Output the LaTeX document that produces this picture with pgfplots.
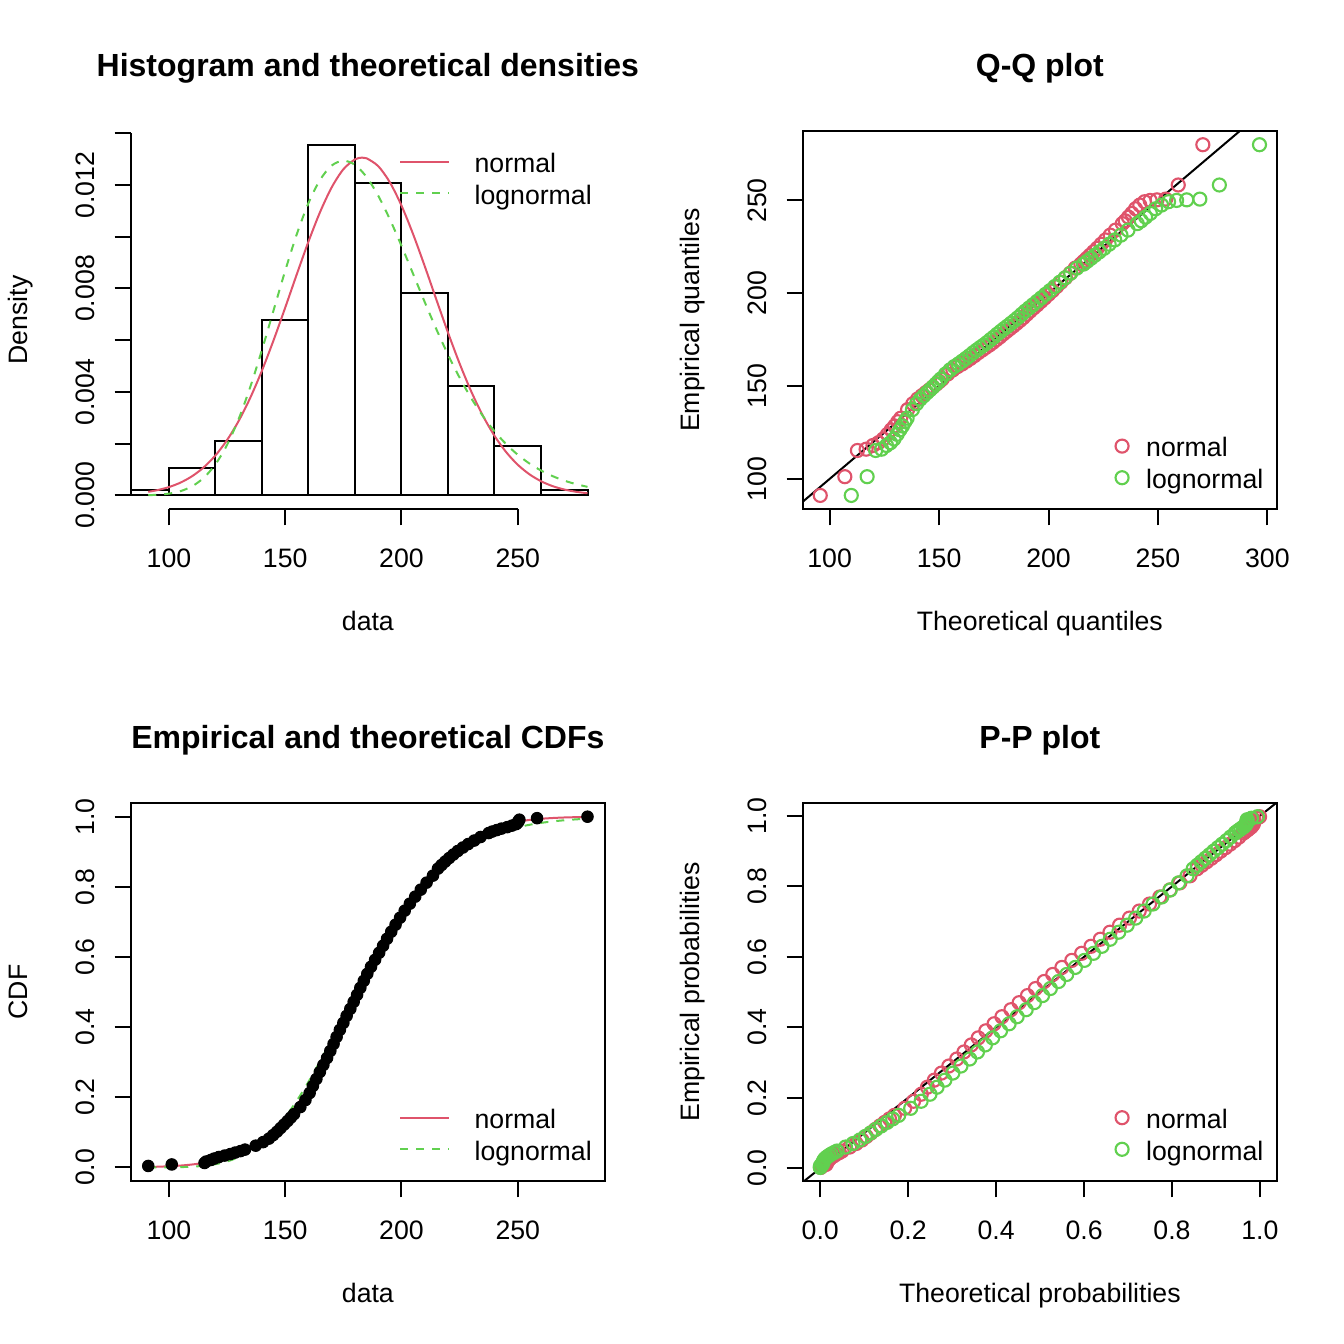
\documentclass[border=0pt]{standalone}
\usepackage{fontspec}
\setmainfont{Liberation Sans}
\usepackage{pgfplots}
\usepackage{pgfplotstable}
\pgfplotsset{compat=1.18}
\definecolor{rred}{HTML}{DF536B}
\definecolor{rgreen}{HTML}{61D04F}

% sorted data (v), ecdf i/n, theoretical quantiles (normal qn, lognormal ql),
% plotting positions pp, theoretical probabilities (normal Fn, lognormal Fl)
\pgfplotstableread{
v ecdf qn ql pp Fn Fl
91.1 0.0042 95.70 109.88 0.0021 0.0013 0.0000
101.2 0.0085 106.94 117.12 0.0064 0.0037 0.0004
115.3 0.0127 112.68 121.00 0.0106 0.0132 0.0049
116.0 0.0169 116.65 123.76 0.0148 0.0140 0.0054
118.0 0.0212 119.77 125.97 0.0191 0.0166 0.0072
119.5 0.0254 122.31 127.79 0.0233 0.0187 0.0087
121.5 0.0297 124.51 129.40 0.0275 0.0219 0.0113
124.0 0.0339 126.43 130.82 0.0318 0.0265 0.0152
126.4 0.0381 128.14 132.10 0.0360 0.0317 0.0200
128.5 0.0424 129.70 133.27 0.0403 0.0370 0.0251
130.8 0.0466 131.13 134.36 0.0445 0.0435 0.0317
132.7 0.0508 132.48 135.39 0.0487 0.0495 0.0381
137.3 0.0621 135.60 137.81 0.0600 0.0669 0.0575
140.5 0.0721 138.01 139.71 0.0700 0.0816 0.0745
143.0 0.0821 140.17 141.44 0.0800 0.0947 0.0898
144.8 0.0921 142.14 143.02 0.0900 0.1049 0.1022
146.5 0.1021 143.95 144.50 0.1000 0.1155 0.1146
148.0 0.1121 145.63 145.88 0.1100 0.1253 0.1264
149.5 0.1221 147.20 147.19 0.1200 0.1358 0.1389
151.0 0.1321 148.69 148.44 0.1300 0.1467 0.1521
152.4 0.1421 150.10 149.63 0.1400 0.1575 0.1649
153.8 0.1521 151.44 150.77 0.1500 0.1687 0.1784
156.5 0.1721 153.95 152.94 0.1700 0.1919 0.2057
158.7 0.1921 156.28 154.97 0.1900 0.2122 0.2294
160.5 0.2121 158.46 156.91 0.2100 0.2298 0.2496
161.9 0.2321 160.53 158.76 0.2300 0.2438 0.2657
163.4 0.2521 162.49 160.54 0.2500 0.2595 0.2835
164.9 0.2721 164.38 162.27 0.2700 0.2756 0.3016
166.4 0.2921 166.19 163.95 0.2900 0.2924 0.3200
168.0 0.3121 167.95 165.59 0.3100 0.3106 0.3400
169.4 0.3321 169.66 167.21 0.3300 0.3269 0.3576
170.8 0.3521 171.33 168.79 0.3500 0.3436 0.3756
172.1 0.3721 172.96 170.37 0.3700 0.3594 0.3922
173.5 0.3921 174.57 171.93 0.3900 0.3766 0.4101
175.0 0.4121 176.15 173.48 0.4100 0.3954 0.4296
176.4 0.4321 177.71 175.02 0.4300 0.4132 0.4478
178.0 0.4521 179.26 176.57 0.4500 0.4337 0.4684
179.45 0.4721 180.80 178.12 0.4700 0.4524 0.4871
180.9 0.4921 182.33 179.68 0.4900 0.4713 0.5056
182.3 0.5121 183.87 181.25 0.5100 0.4895 0.5233
183.8 0.5321 185.40 182.83 0.5300 0.5092 0.5421
185.3 0.5521 186.94 184.44 0.5500 0.5288 0.5606
186.9 0.5721 188.49 186.06 0.5700 0.5496 0.5802
188.65 0.5921 190.05 187.72 0.5900 0.5722 0.6011
190.4 0.6121 191.63 189.41 0.6100 0.5946 0.6215
192.1 0.6321 193.24 191.15 0.6300 0.6159 0.6408
193.8 0.6521 194.87 192.93 0.6500 0.6370 0.6596
195.6 0.6721 196.54 194.76 0.6700 0.6589 0.6790
197.45 0.6921 198.25 196.67 0.6900 0.6808 0.6981
199.4 0.7121 200.01 198.64 0.7100 0.7032 0.7175
201.4 0.7321 201.82 200.69 0.7300 0.7255 0.7367
203.6 0.7521 203.71 202.85 0.7500 0.7489 0.7568
205.9 0.7721 205.67 205.13 0.7700 0.7723 0.7766
208.3 0.7921 207.74 207.54 0.7900 0.7953 0.7961
210.8 0.8121 209.92 210.13 0.8100 0.8178 0.8150
213.55 0.8321 212.25 212.94 0.8300 0.8408 0.8342
215.7 0.8521 214.76 215.99 0.8500 0.8572 0.8482
217.2 0.8621 216.10 217.64 0.8600 0.8680 0.8574
218.8 0.8721 217.51 219.39 0.8700 0.8789 0.8667
220.5 0.8821 219.00 221.25 0.8800 0.8898 0.8761
222.3 0.8921 220.57 223.23 0.8900 0.9003 0.8855
224.2 0.9021 222.25 225.37 0.9000 0.9107 0.8947
226.4 0.9121 224.06 227.70 0.9100 0.9218 0.9046
228.7 0.9221 226.03 230.25 0.9200 0.9322 0.9142
231.3 0.9321 228.19 233.09 0.9300 0.9426 0.9240
234.0 0.9421 230.60 236.31 0.9400 0.9522 0.9332
237.5 0.9534 233.72 240.53 0.9513 0.9625 0.9434
239.0 0.9576 235.07 242.37 0.9555 0.9664 0.9474
241.0 0.9619 236.50 244.35 0.9597 0.9710 0.9524
243.0 0.9661 238.06 246.52 0.9640 0.9750 0.9569
245.5 0.9703 239.77 248.93 0.9682 0.9795 0.9621
247.5 0.9746 241.69 251.67 0.9725 0.9825 0.9658
249.3 0.9788 243.89 254.83 0.9767 0.9849 0.9688
250.0 0.9831 246.43 258.52 0.9809 0.9857 0.9699
250.3 0.9873 249.55 263.14 0.9852 0.9861 0.9704
250.7 0.9915 253.52 269.14 0.9894 0.9866 0.9710
258.3 0.9958 259.26 278.05 0.9936 0.9931 0.9807
280.0 1.0000 270.50 296.38 0.9979 0.9992 0.9944
}\fitdata

\pgfplotsset{
  rbase/.style={
    scale only axis, width=177.9pt, height=142.04pt,
    axis line style={line width=0.75pt},
    every tick/.style={black, line width=0.75pt},
    tick align=outside, major tick length=5.98pt,
    xtick pos=left, ytick pos=left,
    scaled x ticks=false, scaled y ticks=false,
    tick label style={font=\fontsize{10}{12}\selectfont, inner sep=0pt},
    xticklabel style={anchor=center, yshift=-12.22pt},
    yticklabel style={anchor=center, xshift=-10.96pt, rotate=90},
    label style={font=\fontsize{10}{12}\selectfont, inner sep=0pt},
    xlabel style={at={(axis description cs:0.5,-0.3205)}, anchor=base},
    ylabel style={at={(axis description cs:-0.2177,0.5)}, anchor=base},
    title style={at={(axis description cs:0.5,1.1008)}, anchor=base,
      font=\fontsize{12}{14}\selectfont\bfseries, inner sep=0pt},
    legend style={draw=none, fill=none, inner sep=0pt, outer sep=0pt,
      row sep=2.45pt, font=\fontsize{10}{12}\selectfont,
      nodes={inner sep=0pt, text height=7.3pt, text depth=2.1pt}},
    legend cell align=left,
  },
  linelegend/.style={
    legend style={column sep=9.1pt},
    legend image code/.code={\draw[##1] (0pt,1.45pt) -- (18.4pt,1.45pt);},
  },
  marklegend/.style={
    legend style={column sep=6.6pt},
    legend image code/.code={\draw[##1] plot coordinates {(0pt,1.45pt)};},
  },
  rring/.style={only marks, mark=o, #1, mark size=2.45pt,
    mark options={line width=0.8pt}},
}

\begin{document}
\begin{tikzpicture}
\path[use as bounding box] (0pt,0pt) rectangle (504pt,-504pt);

% ---------------- Histogram and theoretical densities
\begin{axis}[rbase, linelegend, at={(49.005pt,-191.04pt)}, anchor=south west,
  clip=false, axis line style={draw=none},
  xmin=83.544, xmax=287.556, ymin=-0.000542, ymax=0.014101,
  xtick={100,150,200,250}, xticklabels={100,150,200,250},
  ytick={0,0.002,0.004,0.006,0.008,0.010,0.012,0.014},
  yticklabels={0.000,,0.004,,0.008,,0.012,},
  title={Histogram and theoretical densities},
  xlabel={data}, ylabel={Density},
  legend style={at={(axis description cs:0.9718,0.9411)}, anchor=north east}]
\addplot[ybar interval, draw=black, fill=none, line width=0.75pt, forget plot] coordinates {
(83.544,0.000212) (100,0.001059) (120,0.002119) (140,0.006780) (160,0.013559)
(180,0.012076) (200,0.007839) (220,0.004237) (240,0.001907) (260,0.000212) (280,0.000212)};
\addplot[rred, line width=0.75pt, smooth] coordinates {
(91.1,0.000140) (95,0.000204) (100,0.000323) (105,0.000497) (110,0.000746) (115,0.001089)
(120,0.001547) (125,0.002141) (130,0.002883) (135,0.003781) (140,0.004827) (145,0.006001)
(150,0.007261) (155,0.008555) (160,0.009812) (165,0.010957) (170,0.011912) (175,0.012608)
(180,0.012992) (183.1,0.013059) (185,0.013034) (190,0.012730) (195,0.012105) (200,0.011206)
(205,0.010100) (210,0.008863) (215,0.007571) (220,0.006297) (225,0.005099) (230,0.004019)
(235,0.003084) (240,0.002305) (245,0.001677) (250,0.001187) (255,0.000819) (260,0.000550)
(265,0.000359) (270,0.000229) (275,0.000142) (280,0.000085)};
\addlegendentry{normal}
\addplot[rgreen, line width=0.75pt, smooth, dash pattern=on 3pt off 3pt] coordinates {
(91.1,0.000011) (95,0.000026) (100,0.000070) (105,0.000167) (110,0.000356) (115,0.000684)
(120,0.001204) (125,0.001956) (130,0.002959) (135,0.004200) (140,0.005627) (145,0.007159)
(150,0.008689) (155,0.010104) (160,0.011302) (165,0.012202) (170,0.012754) (175,0.012942)
(180,0.012780) (185,0.012309) (190,0.011586) (195,0.010677) (200,0.009649) (205,0.008564)
(210,0.007476) (215,0.006426) (220,0.005444) (225,0.004553) (230,0.003760) (235,0.003070)
(240,0.002481) (245,0.001985) (250,0.001573) (255,0.001236) (260,0.000964) (265,0.000746)
(270,0.000573) (275,0.000438) (280,0.000332)};
\addlegendentry{lognormal}
\draw[line width=0.75pt] (axis cs:100,-0.000542) -- (axis cs:250,-0.000542);
\draw[line width=0.75pt] (axis cs:83.544,0) -- (axis cs:83.544,0.014);
\end{axis}

% ---------------- Q-Q plot
\begin{axis}[rbase, marklegend, at={(301.0pt,-191.04pt)}, anchor=south west,
  xmin=87.67, xmax=304.41, ymin=83.544, ymax=287.556,
  xtick={100,150,200,250,300}, xticklabels={100,150,200,250,300},
  ytick={100,150,200,250}, yticklabels={100,150,200,250},
  title={Q-Q plot},
  xlabel={Theoretical quantiles}, ylabel={Empirical quantiles},
  legend style={at={(axis description cs:0.9710,0.0405)}, anchor=south east}]
\addplot[rring=rred] table[x=qn, y=v]{\fitdata};
\addlegendentry{normal}
\addplot[rring=rgreen] table[x=ql, y=v]{\fitdata};
\addlegendentry{lognormal}
\addplot[black, line width=0.75pt, forget plot] coordinates {(80,80) (310,310)};
\end{axis}

% ---------------- Empirical and theoretical CDFs
\begin{axis}[rbase, linelegend, at={(49.005pt,-443.04pt)}, anchor=south west,
  xmin=83.544, xmax=287.556, ymin=-0.04, ymax=1.04,
  xtick={100,150,200,250}, xticklabels={100,150,200,250},
  ytick={0,0.2,0.4,0.6,0.8,1}, yticklabels={0.0,0.2,0.4,0.6,0.8,1.0},
  title={Empirical and theoretical CDFs},
  xlabel={data}, ylabel={CDF},
  legend style={at={(axis description cs:0.9718,0.0418)}, anchor=south east}]
\addplot[only marks, mark=*, black, mark size=2.15pt, forget plot]
  table[x=v, y=ecdf]{\fitdata};
\addplot[rred, line width=0.75pt, smooth] coordinates {
(91.1,0.0013) (95,0.0020) (100,0.0033) (105,0.0053) (110,0.0084) (115,0.0129) (120,0.0194)
(125,0.0286) (130,0.0411) (135,0.0577) (140,0.0791) (145,0.1062) (150,0.1393) (155,0.1788)
(160,0.2248) (165,0.2768) (170,0.3340) (175,0.3955) (180,0.4596) (185,0.5248) (190,0.5894)
(195,0.6515) (200,0.7099) (205,0.7633) (210,0.8107) (215,0.8518) (220,0.8864) (225,0.9149)
(230,0.9376) (235,0.9553) (240,0.9687) (245,0.9786) (250,0.9857) (255,0.9907) (260,0.9941)
(265,0.9963) (270,0.9978) (275,0.9987) (280,0.9992)};
\addlegendentry{normal}
\addplot[rgreen, line width=0.75pt, smooth, dash pattern=on 3pt off 3pt] coordinates {
(91.1,0.0000) (95,0.0001) (100,0.0003) (105,0.0009) (110,0.0022) (115,0.0047) (120,0.0093)
(125,0.0171) (130,0.0293) (135,0.0471) (140,0.0716) (145,0.1035) (150,0.1432) (155,0.1902)
(160,0.2439) (165,0.3028) (170,0.3653) (175,0.4297) (180,0.4941) (185,0.5570) (190,0.6168)
(195,0.6725) (200,0.7234) (205,0.7689) (210,0.8090) (215,0.8437) (220,0.8734) (225,0.8983)
(230,0.9191) (235,0.9361) (240,0.9499) (245,0.9611) (250,0.9699) (255,0.9769) (260,0.9824)
(265,0.9866) (270,0.9899) (275,0.9924) (280,0.9943)};
\addlegendentry{lognormal}
\end{axis}

% ---------------- P-P plot
\begin{axis}[rbase, marklegend, at={(301.0pt,-443.04pt)}, anchor=south west,
  xmin=-0.04, xmax=1.039, ymin=-0.0377, ymax=1.0377,
  xtick={0,0.2,0.4,0.6,0.8,1}, xticklabels={0.0,0.2,0.4,0.6,0.8,1.0},
  ytick={0,0.2,0.4,0.6,0.8,1}, yticklabels={0.0,0.2,0.4,0.6,0.8,1.0},
  title={P-P plot},
  xlabel={Theoretical probabilities}, ylabel={Empirical probabilities},
  legend style={at={(axis description cs:0.9710,0.0416)}, anchor=south east}]
\addplot[rring=rred] table[x=Fn, y=pp]{\fitdata};
\addlegendentry{normal}
\addplot[rring=rgreen] table[x=Fl, y=pp]{\fitdata};
\addlegendentry{lognormal}
\addplot[black, line width=0.75pt, forget plot] coordinates {(-0.1,-0.1) (1.1,1.1)};
\end{axis}
\end{tikzpicture}
\end{document}
